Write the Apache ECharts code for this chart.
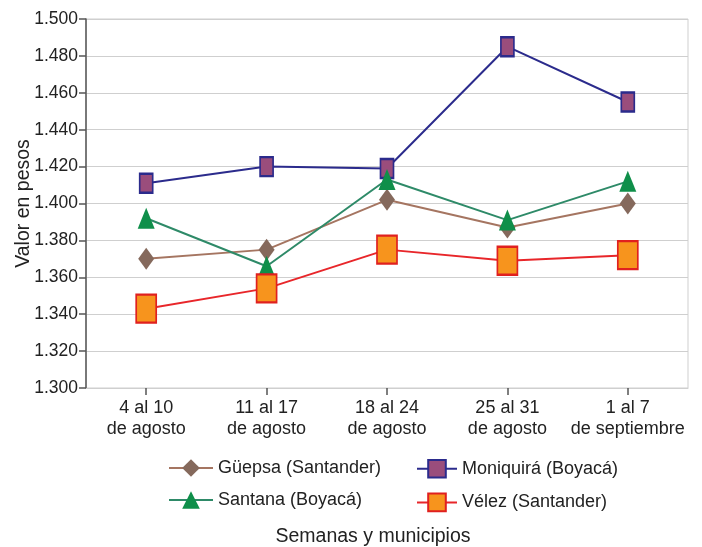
<!DOCTYPE html>
<html>
<head>
<meta charset="utf-8">
<script src="https://cdn.jsdelivr.net/npm/echarts@6/dist/echarts.min.js"></script>
<style>
html,body{margin:0;padding:0;background:#fff;}
#main{width:702px;height:547px;}
</style>
</head>
<body>
<div id="main"></div>
<script>
const categories = ['4 al 10\nde agosto', '11 al 17\nde agosto', '18 al 24\nde agosto', '25 al 31\nde agosto', '1 al 7\nde septiembre'];
const guepsa = [1370, 1375, 1402, 1387, 1400];
const moniquira = [1411, 1420, 1419, 1485, 1455];
const santana = [1392, 1366, 1413, 1391, 1412];
const velez = [1343, 1354, 1375, 1369, 1372];
const yMin = 1300, yMax = 1500, yStep = 20;

const FONT = 'Liberation Sans, Arial, sans-serif';
const chart = echarts.init(document.getElementById('main'), null, {renderer: 'canvas'});

function series(name, data, lineColor, fill, border, symbol, size, bw) {
  return {
    name: name, type: 'line', data: data,
    symbol: symbol, symbolSize: size,
    lineStyle: {color: lineColor, width: 2},
    itemStyle: {color: fill, borderColor: border, borderWidth: bw},
    emphasis: {disabled: true},
    animation: false
  };
}

chart.setOption({
  backgroundColor: '#fff',
  animation: false,
  grid: {left: 86, right: 14, top: 19, bottom: 159, show: true, borderColor: '#cfcfcf', borderWidth: 1,
    containLabel: false, outerBoundsMode: 'none'},
  xAxis: {
    type: 'category', data: categories, boundaryGap: true,
    name: 'Semanas y municipios', nameLocation: 'middle', nameGap: 139, nameMoveOverlap: false,
    nameTextStyle: {fontFamily: FONT, fontSize: 19.5, color: '#222', padding: [0, 28, 0, 0]},
    axisLine: {show: true, lineStyle: {color: '#cfcfcf', width: 1}},
    axisTick: {show: true, alignWithLabel: true, length: 7, lineStyle: {color: '#555', width: 1.5}},
    axisLabel: {fontFamily: FONT, fontSize: 18, color: '#222', margin: 10, lineHeight: 20.5, interval: 0},
    splitLine: {show: false}
  },
  yAxis: {
    type: 'value', min: yMin, max: yMax, interval: yStep,
    name: 'Valor en pesos', nameLocation: 'middle', nameGap: 52, nameMoveOverlap: false,
    nameTextStyle: {fontFamily: FONT, fontSize: 19.5, color: '#222'},
    axisLine: {show: true, lineStyle: {color: '#555', width: 1.5}},
    axisTick: {show: true, length: 7, lineStyle: {color: '#555', width: 1.5}},
    axisLabel: {fontFamily: FONT, fontSize: 17.5, color: '#222', margin: 8,
      formatter: v => (v / 1000).toFixed(3)},
    splitLine: {show: true, lineStyle: {color: '#cfcfcf', width: 1}}
  },
  legend: [{
    data: ['Güepsa (Santander)', 'Santana (Boyacá)'],
    orient: 'vertical', left: 163, top: 454, itemWidth: 44, itemHeight: 22, itemGap: 14,
    textStyle: {fontFamily: FONT, fontSize: 18, color: '#222'}
  }, {
    data: ['Moniquirá (Boyacá)', 'Vélez (Santander)'],
    orient: 'vertical', left: 411, top: 454, itemWidth: 40, itemHeight: 22, itemGap: 14,
    textStyle: {fontFamily: FONT, fontSize: 18, color: '#222'}
  }],
  series: [
    series('Güepsa (Santander)', guepsa, '#a57561', '#85695c', '#85695c', 'diamond', [16, 22], 0),
    series('Moniquirá (Boyacá)', moniquira, '#2b2b8c', '#9a4d7c', '#2b2b8c', 'rect', [13, 19], 2),
    series('Santana (Boyacá)', santana, '#2e8a68', '#0f8f4a', '#0f8f4a', 'triangle', [17, 21], 0),
    series('Vélez (Santander)', velez, '#e8262a', '#f7941d', '#e0201f', 'rect', [20, 28], 2)
  ]
});
</script>
</body>
</html>
